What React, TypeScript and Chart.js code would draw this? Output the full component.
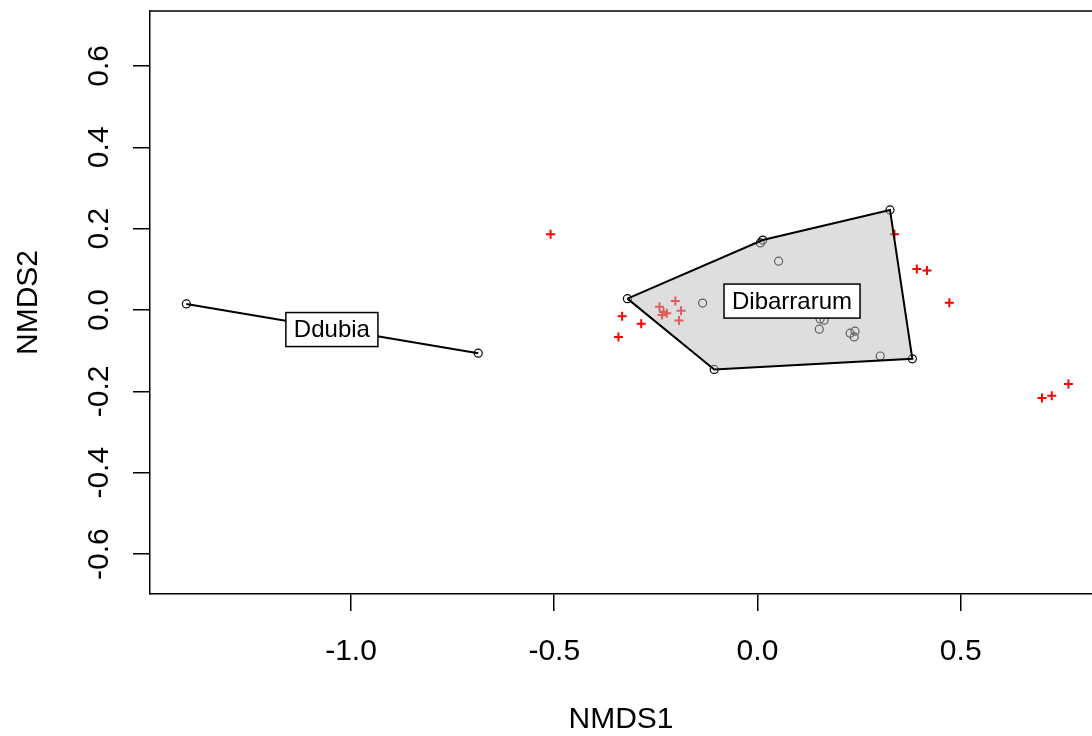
import React, { useEffect, useRef } from "react";
import { Chart, registerables } from "chart.js";

Chart.register(...registerables);

// Axis ticks
const xTicks = [-1.0, -0.5, 0.0, 0.5];
const yTicks = [-0.6, -0.4, -0.2, 0.0, 0.2, 0.4, 0.6];

// Site scores (open circles)
const siteX = [
  -1.405, -0.687,
  -0.320, -0.1065, 0.381, 0.326, 0.013, 0.007, -0.135, 0.052,
  0.154, 0.164, 0.152, 0.228, 0.240, 0.238, 0.302,
];
const siteY = [
  0.015, -0.106,
  0.028, -0.146, -0.120, 0.246, 0.172, 0.165, 0.017, 0.120,
  -0.022, -0.025, -0.047, -0.057, -0.052, -0.066, -0.113,
];

// Species scores (red crosses)
const speciesX = [
  -0.509, -0.333, -0.286, -0.342, -0.202, -0.241, -0.231, -0.223, -0.235,
  -0.188, -0.193, 0.337, 0.392, 0.417, 0.472, 0.765, 0.724, 0.700,
];
const speciesY = [
  0.186, -0.015, -0.034, -0.066, 0.022, 0.008, -0.005, -0.008, -0.012,
  -0.002, -0.026, 0.186, 0.101, 0.097, 0.018, -0.182, -0.211, -0.216,
];

// Convex hulls (closed)
const hullDibX = [-0.320, -0.1065, 0.381, 0.326, 0.013, -0.320];
const hullDibY = [0.028, -0.146, -0.120, 0.246, 0.172, 0.028];
const hullDduX = [-1.405, -0.687, -1.405];
const hullDduY = [0.015, -0.106, 0.015];

// Group labels
const groupNames = ["Ddubia", "Dibarrarum"];
const groupX = [-1.047, 0.085];
const groupY = [-0.048, 0.022];

const FONT = "'Liberation Sans', Arial, sans-serif";

const zip = (xs: number[], ys: number[]) => xs.map((x, i) => ({ x, y: ys[i] }));

const framePlugin = {
  id: "frameTop",
  afterDraw(chart: any) {
    const { ctx, chartArea } = chart;
    ctx.save();
    ctx.strokeStyle = "#000";
    ctx.lineWidth = 1.5;
    ctx.beginPath();
    ctx.moveTo(chartArea.left, chartArea.top);
    ctx.lineTo(chartArea.right, chartArea.top);
    ctx.stroke();
    ctx.restore();
  },
};

const labelPlugin = {
  id: "ordiLabels",
  afterDatasetsDraw(chart: any) {
    const { ctx } = chart;
    const xs = chart.scales.x;
    const ys = chart.scales.y;
    ctx.save();
    ctx.font = `24px ${FONT}`;
    ctx.textAlign = "center";
    ctx.textBaseline = "middle";
    groupNames.forEach((name, i) => {
      const px = xs.getPixelForValue(groupX[i]);
      const py = ys.getPixelForValue(groupY[i]);
      const w = ctx.measureText(name).width + 16;
      const h = 34;
      ctx.fillStyle = "#fff";
      ctx.strokeStyle = "#000";
      ctx.lineWidth = 1.5;
      ctx.fillRect(px - w / 2, py - h / 2, w, h);
      ctx.strokeRect(px - w / 2, py - h / 2, w, h);
      ctx.fillStyle = "#000";
      ctx.fillText(name, px, py + 1);
    });
    ctx.restore();
  },
};

const zeroPad = (s: any) => {
  s.paddingTop = 0;
  s.paddingBottom = 0;
  s.paddingLeft = 0;
  s.paddingRight = 0;
};

export default function App() {
  const ref = useRef<HTMLCanvasElement | null>(null);

  useEffect(() => {
    if (!ref.current) return;
    const axisFont = { family: FONT, size: 30 };
    const gridOpts = {
      display: true,
      drawOnChartArea: false,
      drawTicks: true,
      tickLength: 17,
      color: "#000",
      tickColor: "#000",
      lineWidth: 1.5,
      tickWidth: 1.5,
    };
    const chart = new Chart(ref.current, {
      type: "scatter",
      data: {
        datasets: [
          {
            label: "hullDib",
            data: zip(hullDibX, hullDibY),
            showLine: true,
            fill: "shape",
            backgroundColor: "rgba(190,190,190,0.5)",
            borderColor: "#000",
            borderWidth: 2,
            pointRadius: 0,
            tension: 0,
            order: 0,
          } as any,
          {
            label: "hullDdu",
            data: zip(hullDduX, hullDduY),
            showLine: true,
            fill: false,
            borderColor: "#000",
            borderWidth: 2,
            pointRadius: 0,
            tension: 0,
            order: 0,
          } as any,
          {
            label: "species",
            data: zip(speciesX, speciesY),
            pointStyle: "cross",
            pointRadius: 4.5,
            borderColor: "#ff0000",
            borderWidth: 2,
            backgroundColor: "#ff0000",
            order: 2,
          } as any,
          {
            label: "sites",
            data: zip(siteX, siteY),
            pointStyle: "circle",
            pointRadius: 4,
            borderColor: "#000",
            borderWidth: 1.2,
            backgroundColor: "rgba(0,0,0,0)",
            order: 1,
          } as any,
        ],
      },
      options: {
        animation: false,
        responsive: false,
        devicePixelRatio: 1,
        layout: { autoPadding: false, padding: { top: 11, left: 0, right: 0, bottom: 0 } },
        plugins: {
          legend: { display: false },
          tooltip: { enabled: false },
        },
        events: [],
        scales: {
          x: {
            type: "linear",
            position: "bottom",
            min: -1.4945,
            max: 0.823,
            afterBuildTicks: (s: any) => {
              s.ticks = xTicks.map((v) => ({ value: v }));
            },
            afterFit: (s: any) => {
              s.height = 142;
              zeroPad(s);
            },
            grid: gridOpts,
            border: { display: true, color: "#000", width: 1.5 },
            ticks: {
              autoSkip: false,
              maxRotation: 0,
              minRotation: 0,
              padding: 23,
              color: "#000",
              font: axisFont,
              callback: (v: any) => Number(v).toFixed(1),
            },
            title: {
              display: true,
              text: "NMDS1",
              color: "#000",
              font: axisFont,
              padding: { top: 0, bottom: -2 },
            },
          },
          y: {
            type: "linear",
            position: "left",
            min: -0.698,
            max: 0.735,
            afterBuildTicks: (s: any) => {
              s.ticks = yTicks.map((v) => ({ value: v }));
            },
            afterFit: (s: any) => {
              s.width = 150;
              zeroPad(s);
            },
            grid: gridOpts,
            border: { display: true, color: "#000", width: 1.5 },
            ticks: {
              autoSkip: false,
              minRotation: 90,
              maxRotation: 90,
              crossAlign: "center",
              padding: 7,
              color: "#000",
              font: axisFont,
              callback: (v: any) => Number(v).toFixed(1),
            },
            title: {
              display: true,
              text: "NMDS2",
              color: "#000",
              font: axisFont,
              padding: { top: 11, bottom: 0 },
            },
          },
        },
      } as any,
      plugins: [framePlugin, labelPlugin],
    });
    return () => chart.destroy();
  }, []);

  return (
    <div style={{ position: "fixed", left: 0, top: 0, width: 1092, height: 736, background: "#fff" }}>
      <canvas ref={ref} width={1092} height={736} style={{ width: 1092, height: 736, display: "block" }} />
    </div>
  );
}
